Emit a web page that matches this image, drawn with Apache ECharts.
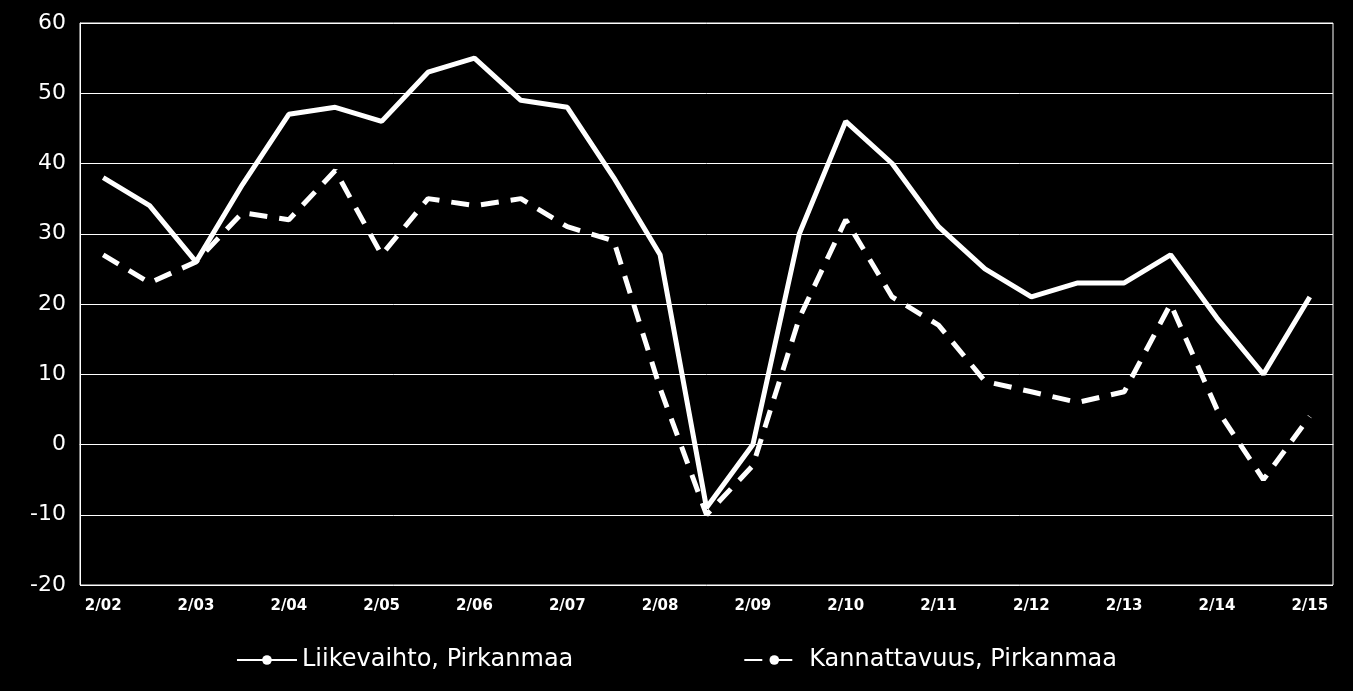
<!DOCTYPE html>
<html><head><meta charset="utf-8">
<script src="https://cdn.jsdelivr.net/npm/echarts@6/dist/echarts.min.js"></script>
<style>html,body{margin:0;background:#000}#c{width:1353px;height:691px}</style></head>
<body><div id="c"></div>
<script>
const categories = ["2/02","8/02","2/03","8/03","2/04","8/04","2/05","8/05","2/06","8/06","2/07","8/07","2/08","8/08","2/09","8/09","2/10","8/10","2/11","8/11","2/12","8/12","2/13","8/13","2/14","8/14","2/15"];
const liikevaihto = [38,34,26,37,47,48,46,53,55,49,48,38,27,-9,0,30,46,40,31,25,21,23,23,27,18,10,21];
const kannattavuus = [27,23,26,33,32,39,27,35,34,35,31,29,8,-10,-3,18,32,21,17,9,7.5,6,7.5,20,5,-5,4];
const chart = echarts.init(document.getElementById('c'));
chart.setOption({
  backgroundColor:'#000',
  animation:false,
  grid:{left:80,right:20,top:23,bottom:106,show:true,borderColor:'#fff',borderWidth:1},
  legend:{bottom:14,left:'center',itemGap:170,itemWidth:60,itemHeight:12,
    textStyle:{color:'#fff',fontSize:24,fontFamily:'DejaVu Sans'},
    data:['Liikevaihto, Pirkanmaa','Kannattavuus, Pirkanmaa']},
  xAxis:{type:'category',data:categories,boundaryGap:true,
    axisLine:{lineStyle:{color:'#fff'}},axisTick:{show:false},
    axisLabel:{color:'#fff',fontSize:15,fontWeight:'bold',fontFamily:'DejaVu Sans',interval:1,margin:14}},
  yAxis:{type:'value',min:-20,max:60,interval:10,
    axisLine:{show:true,lineStyle:{color:'#fff'}},
    splitLine:{lineStyle:{color:'#fff',width:1}},
    axisLabel:{color:'#fff',fontSize:22,fontFamily:'DejaVu Sans',margin:14}},
  series:[
    {name:'Liikevaihto, Pirkanmaa',type:'line',data:liikevaihto,symbol:'none',
      lineStyle:{color:'#fff',width:5},itemStyle:{color:'#fff'}},
    {name:'Kannattavuus, Pirkanmaa',type:'line',data:kannattavuus,symbol:'none',
      lineStyle:{color:'#fff',width:5,type:[18,12]},itemStyle:{color:'#fff'}}
  ]
});
</script></body></html>
